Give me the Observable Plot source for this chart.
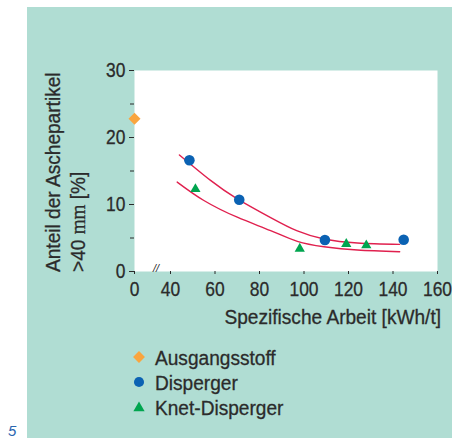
<!DOCTYPE html>
<html><head><meta charset="utf-8">
<script src="https://cdn.jsdelivr.net/npm/d3@7"></script>
<script src="https://cdn.jsdelivr.net/npm/@observablehq/plot@0.6"></script>
<style>
html,body{margin:0;padding:0;background:#fff;}
#chart{position:relative;width:452px;height:438px;overflow:hidden;}
</style></head><body><div id="chart"></div>
<script>
const FONT = '"Liberation Sans", Arial, sans-serif';
const TEXT = "#2b2b2b";
const TEAL = "#b0ddd3";
const RED = "#e0204e";
const ORANGE = "#f9a53f";
const BLUE = "#0b62b3";
const GREEN = "#00a54f";

// axis ticks
const xTicks = [0, 40, 60, 80, 100, 120, 140, 160];
const yTicks = [0, 10, 20, 30];
const yMinorTicks = [5, 15, 25];
const xLabel = "Spezifische Arbeit [kWh/t]";
const yLabelLine1 = "Anteil der Aschepartikel";
const yLabelLine2 = [">40 ", "mm", " [%]"];
const seriesNames = ["Ausgangsstoff", "Disperger", "Knet-Disperger"];
const figNumber = "5";

// data
const ausgangsX = [0];
const ausgangsY = [22.8];
const dispergerX = [48.5, 70.9, 109.4, 144.8];
const dispergerY = [16.6, 10.7, 4.7, 4.75];
const knetX = [51.2, 98.1, 119.0, 128.0];
const knetY = [12.3, 3.4, 4.1, 3.9];
const upperCurveX = [44, 58, 70, 85, 97, 109, 124, 143];
const upperCurveY = [17.4, 13.6, 10.85, 8.05, 6.05, 4.85, 4.25, 4.05];
const lowerCurveX = [43, 55, 70, 85, 97, 109, 124, 143];
const lowerCurveY = [13.35, 10.6, 8.1, 6.1, 4.5, 3.7, 3.2, 2.95];
const breakMarkX = [24];
const breakMarkY = [0];

const zip = (xs, ys) => xs.map((x, i) => ({x, y: ys[i]}));
const ausgang = zip(ausgangsX, ausgangsY);
const disperger = zip(dispergerX, dispergerY);
const knet = zip(knetX, knetY);
const upper = zip(upperCurveX, upperCurveY);
const lower = zip(lowerCurveX, lowerCurveY);
const breakMark = zip(breakMarkX, breakMarkY);

const plot = Plot.plot({
  width: 452, height: 438,
  marginLeft: 134, marginRight: 15, marginTop: 70, marginBottom: 167,
  style: {background: "transparent", fontFamily: FONT, fontSize: "21px", color: TEXT, overflow: "visible"},
  x: {type: "linear", domain: [0, 40, 160], range: [134, 170, 437]},
  y: {domain: [0, 30]},
  marks: [
    Plot.frame({fill: "white", stroke: "none"}),
    Plot.axisX({ticks: xTicks, tickSize: 3, tickPadding: 7, label: null, fontSize: 21}),
    Plot.axisY({ticks: yTicks, tickSize: 5, tickPadding: 4, label: null, fontSize: 21}),
    Plot.axisY({ticks: yMinorTicks, tickSize: 4, tickFormat: () => "", label: null}),
    Plot.text(breakMark, {x: "x", y: "y", text: () => "//", fontSize: 11, dy: -3, fill: TEXT, fontStyle: "italic"}),
    Plot.line(upper, {x: "x", y: "y", curve: "natural", stroke: RED, strokeWidth: 1.4}),
    Plot.line(lower, {x: "x", y: "y", curve: "natural", stroke: RED, strokeWidth: 1.4}),
    Plot.dot(ausgang, {x: "x", y: "y", symbol: "diamond2", r: 5.4, fill: ORANGE}),
    Plot.dot(disperger, {x: "x", y: "y", symbol: "circle", r: 5.3, fill: BLUE}),
    Plot.dot(knet, {x: "x", y: "y", symbol: "triangle", r: 3.8, fill: GREEN})
  ]
});

const svg = d3.select(plot);
svg.insert("rect", ":first-child")
  .attr("x", 27).attr("y", 7).attr("width", 425).attr("height", 431).attr("fill", TEAL);

const g = svg.append("g").attr("fill", TEXT).attr("font-family", FONT).attr("font-size", 21).attr("text-anchor", "start");
g.append("text").attr("transform", "translate(60,272) rotate(-90)").text(yLabelLine1);
const t2 = g.append("text").attr("transform", "translate(85,272) rotate(-90)");
t2.append("tspan").text(yLabelLine2[0]);
t2.append("tspan").attr("font-family", '"Liberation Serif", serif').text(yLabelLine2[1]);
t2.append("tspan").text(yLabelLine2[2]);
g.append("text").attr("transform", "translate(441,324)").attr("text-anchor", "end").text(xLabel);

// legend
const legendSymbols = [d3.symbolDiamond2, d3.symbolCircle, d3.symbolTriangle];
const legendSizes = [90, 80, 55];
const legendColors = [ORANGE, BLUE, GREEN];
const legendY = [357, 382, 407];
seriesNames.forEach((name, i) => {
  g.append("path").attr("transform", `translate(139,${legendY[i] + (i === 2 ? 1 : 0)})`)
    .attr("d", d3.symbol(legendSymbols[i], legendSizes[i])()).attr("fill", legendColors[i]);
  g.append("text").attr("transform", `translate(155,${legendY[i] + 7.5})`).text(name);
});

g.append("text").attr("class", "nocond").attr("x", 8).attr("y", 436)
  .attr("font-style", "italic").attr("font-size", 15).attr("fill", "#2a66b0").text(figNumber);

document.getElementById("chart").appendChild(plot);

// condense glyphs horizontally to match the narrow, slightly heavier typeface of the original
svg.selectAll("text").each(function() {
  if (this.classList.contains("nocond")) return;
  const s = this.textContent;
  if (s === "//" || s === "") return;
  const f = /^[0-9]+$/.test(s) ? 0.83 : 0.91;
  let tr = this.getAttribute("transform");
  if (!tr) {
    const x = this.getAttribute("x") || 0, y = this.getAttribute("y") || 0;
    this.removeAttribute("x"); this.removeAttribute("y");
    tr = `translate(${x},${y})`;
  }
  this.setAttribute("transform", `${tr} scale(${f},1)`);
  this.setAttribute("stroke", TEXT);
  this.setAttribute("stroke-width", "0.3");
});
</script></body></html>
